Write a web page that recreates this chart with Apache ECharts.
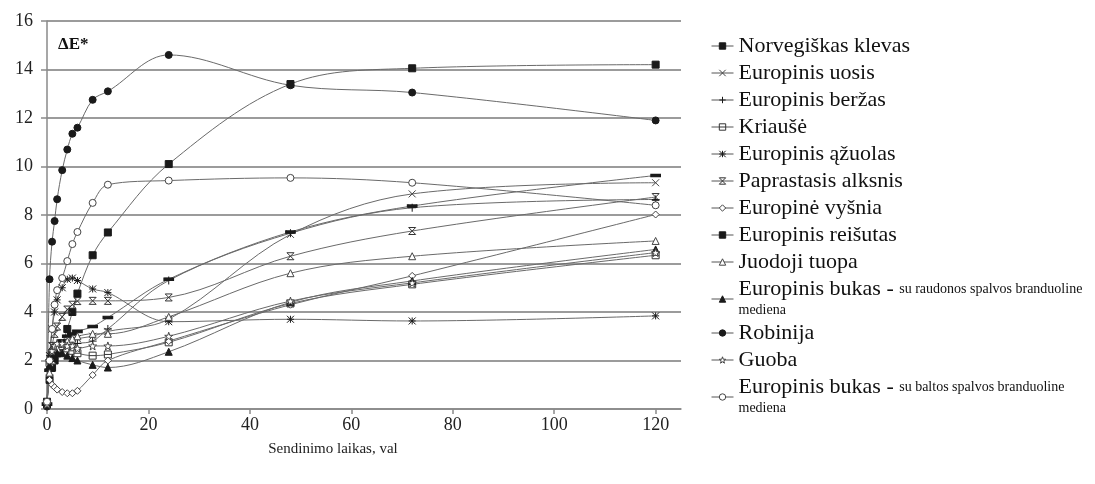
<!DOCTYPE html>
<html>
<head>
<meta charset="utf-8">
<script src="https://cdn.jsdelivr.net/npm/echarts@6/dist/echarts.min.js"></script>
<style>
  html, body { margin: 0; padding: 0; background: #fff; }
  #chart { width: 1095px; height: 484px; }
</style>
</head>
<body>
<div id="chart"></div>
<script>
// Aging time, hours
const hours = [0, 0.5, 1, 1.5, 2, 3, 4, 5, 6, 9, 12, 24, 48, 72, 120];

// Colour change ΔE* per wood species
const klevas   = [0.3, 1.2, 1.7, 2.0, 2.3, 2.7, 3.3, 4.0, 4.76, 6.34, 7.28, 10.1, 13.4, 14.05, 14.2];
const uosis    = [0.2, 1.5, 2.0, 2.3, 2.5, 2.6, 2.7, 2.8, 2.9, 3.0, 3.2, 3.7, 7.2, 8.87, 9.33];
const berzas   = [0.2, 1.4, 1.9, 2.2, 2.4, 2.5, 2.6, 2.6, 2.7, 2.8, 3.3, 5.3, 7.25, 8.3, 8.64];
const kriause  = [0.2, 1.9, 2.3, 2.5, 2.6, 2.6, 2.5, 2.4, 2.3, 2.2, 2.25, 2.75, 4.35, 5.14, 6.34];
const azuolas  = [0.2, 2.2, 3.3, 4.0, 4.5, 5.0, 5.35, 5.4, 5.3, 4.95, 4.8, 3.6, 3.7, 3.63, 3.84];
const alksnis  = [0.2, 1.8, 2.6, 3.1, 3.4, 3.8, 4.1, 4.3, 4.45, 4.46, 4.46, 4.6, 6.3, 7.34, 8.74];
const vysnia   = [0.3, 1.2, 1.0, 0.9, 0.8, 0.7, 0.65, 0.65, 0.75, 1.4, 2.0, 2.8, 4.3, 5.49, 8.02];
const reisutas = [0.2, 1.6, 2.1, 2.4, 2.6, 2.8, 3.0, 3.1, 3.2, 3.4, 3.77, 5.35, 7.3, 8.37, 9.63];
const tuopa    = [0.2, 1.5, 2.0, 2.3, 2.5, 2.7, 2.8, 2.9, 3.0, 3.1, 3.1, 3.8, 5.6, 6.3, 6.93];
const bukasR   = [0.2, 1.8, 2.1, 2.2, 2.3, 2.3, 2.2, 2.1, 2.0, 1.82, 1.71, 2.36, 4.4, 5.28, 6.58];
const robinija = [0.1, 5.35, 6.9, 7.75, 8.65, 9.85, 10.7, 11.35, 11.6, 12.75, 13.1, 14.6, 13.35, 13.05, 11.9];
const guoba    = [0.2, 2.0, 2.4, 2.6, 2.7, 2.7, 2.6, 2.6, 2.5, 2.6, 2.6, 3.0, 4.45, 5.2, 6.45];
const bukasB   = [0.3, 2.0, 3.3, 4.3, 4.9, 5.4, 6.1, 6.8, 7.3, 8.5, 9.25, 9.42, 9.53, 9.33, 8.4];

// Species names and optional small-print notes
const names = [
  'Norvegiškas klevas', 'Europinis uosis', 'Europinis beržas', 'Kriaušė',
  'Europinis ąžuolas', 'Paprastasis alksnis', 'Europinė vyšnia', 'Europinis reišutas',
  'Juodoji tuopa', 'Europinis bukas (R)', 'Robinija', 'Guoba', 'Europinis bukas (B)'
];
const noteMain = {
  'Europinis bukas (R)': ['Europinis bukas - ', 'su raudonos spalvos branduoline', 'mediena'],
  'Europinis bukas (B)': ['Europinis bukas - ', 'su baltos spalvos branduoline', 'mediena']
};
const values = [klevas, uosis, berzas, kriause, azuolas, alksnis, vysnia, reisutas,
                tuopa, bukasR, robinija, guoba, bukasB];

const xTicks = [0, 20, 40, 60, 80, 100, 120];
const yTicks = [0, 2, 4, 6, 8, 10, 12, 14, 16];

// Marker styles per species
const INK = '#1a1a1a';
const P_X = 'path://M0,0L10,10M10,0L0,10';
const P_PLUS = 'path://M5,0L5,10M0,5L10,5';
const P_BOXH = 'path://M0,0L10,0L10,10L0,10ZM0,5L10,5';
const P_AST = 'path://M0,0L10,10M10,0L0,10M5,0L5,10M0,5L10,5';
const P_XBAR = 'path://M0,0L10,10M10,0L0,10M0,0L10,0M0,10L10,10';
const P_DASH = 'path://M0,0L10,0L10,3L0,3Z';
const P_STAR = 'path://M5,0L6.2,3.6L10,3.7L7,6L8.1,9.6L5,7.5L1.9,9.6L3,6L0,3.7L3.8,3.6Z';
const marks = [
  { symbol: 'rect', size: 7, fill: INK },
  { symbol: P_X, size: 7, fill: '#fff', stroke: '#444' },
  { symbol: P_PLUS, size: 8, fill: '#fff', stroke: INK },
  { symbol: P_BOXH, size: 7, fill: '#fff', stroke: '#333' },
  { symbol: P_AST, size: 7, fill: '#fff', stroke: INK },
  { symbol: P_XBAR, size: 7, fill: '#fff', stroke: '#333' },
  { symbol: 'diamond', size: 7, fill: '#fff', stroke: '#444' },
  { symbol: P_DASH, size: [9, 3], fill: INK },
  { symbol: 'triangle', size: 7, fill: '#fff', stroke: '#444' },
  { symbol: 'triangle', size: 7, fill: INK },
  { symbol: 'circle', size: 7, fill: INK },
  { symbol: P_STAR, size: 8, fill: '#fff', stroke: '#444' },
  { symbol: 'circle', size: 7, fill: '#fff', stroke: '#444' }
];

const FONT = 'Liberation Serif';

const series = names.map((name, i) => ({
  name,
  type: 'line',
  smooth: 0.35,
  data: hours.map((h, k) => [h, values[i][k]]),
  symbol: marks[i].symbol,
  symbolSize: marks[i].size,
  showAllSymbol: true,
  lineStyle: { color: '#6a6a6a', width: 1 },
  itemStyle: {
    color: marks[i].fill,
    borderColor: marks[i].stroke || marks[i].fill,
    borderWidth: 1
  },
  emphasis: { disabled: true },
  animation: false,
  z: 3
}));

const legendData = names.map((name, i) => ({
  name,
  itemStyle: {
    color: marks[i].fill,
    borderColor: marks[i].stroke || marks[i].fill,
    borderWidth: 1
  },
  lineStyle: { color: '#555', width: 1 }
}));

const chart = echarts.init(document.getElementById('chart'), null, { renderer: 'canvas' });
chart.setOption({
  backgroundColor: '#fff',
  animation: false,
  grid: { left: 47, right: 414, top: 21, bottom: 75, containLabel: false },
  xAxis: {
    type: 'value', min: 0, max: 125, interval: 20,
    name: 'Sendinimo laikas, val', nameLocation: 'middle', nameGap: 33,
    nameTextStyle: { fontFamily: FONT, fontSize: 15, color: '#222', padding: [0, 62, 0, 0] },
    axisLine: { show: true, lineStyle: { color: '#8a8a8a', width: 1.5 } },
    axisTick: { show: true, length: 5, customValues: xTicks, lineStyle: { color: '#8a8a8a', width: 1.5 } },
    axisLabel: { customValues: xTicks, margin: 7, fontFamily: FONT, fontSize: 18, color: '#222' },
    splitLine: { show: false }
  },
  yAxis: {
    type: 'value', min: 0, max: 16, interval: 2,
    axisLine: { show: true, lineStyle: { color: '#8a8a8a', width: 1.5 } },
    axisTick: { show: true, length: 6, customValues: yTicks, lineStyle: { color: '#8a8a8a', width: 1.5 } },
    axisLabel: { customValues: yTicks, margin: 14, fontFamily: FONT, fontSize: 18, color: '#222' },
    splitLine: { show: true, lineStyle: { color: '#7a7a7a', width: 1.5 } }
  },
  legend: {
    orient: 'vertical',
    left: 706, top: 30,
    itemWidth: 22, itemHeight: 8, itemGap: 5,
    selectedMode: false,
    data: legendData,
    formatter: (name) => {
      const n = noteMain[name];
      if (n) return '{b|' + n[0] + '}{s|' + n[1] + '}\n{s|' + n[2] + '}';
      return '{b|' + name + '}';
    },
    textStyle: {
      fontFamily: FONT, color: '#111', fontSize: 22,
      rich: {
        b: { fontFamily: FONT, fontSize: 22, color: '#111' },
        s: { fontFamily: FONT, fontSize: 14, lineHeight: 20, color: '#111' }
      }
    }
  },
  graphic: [{
    type: 'text', left: 58, top: 36,
    style: { text: 'ΔE*', font: 'bold 17px "Liberation Serif"', fill: '#111' }
  }],
  series
});
</script>
</body>
</html>
